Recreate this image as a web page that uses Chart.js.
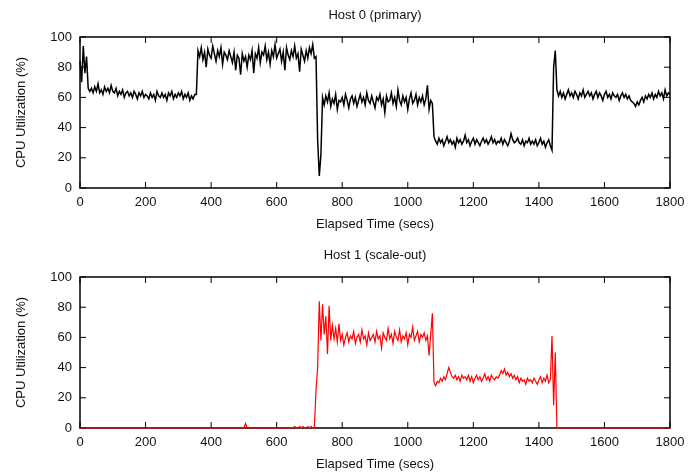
<!DOCTYPE html>
<html>
<head>
<meta charset="utf-8">
<script src="https://cdn.jsdelivr.net/npm/chart.js@4.4.1/dist/chart.umd.min.js"></script>
<style>
  html, body { margin: 0; padding: 0; background: #fff; overflow: hidden; }
  .panel { position: absolute; left: 0; width: 699px; height: 238px; }
  #top { top: 0; }
  #bottom { top: 240px; }
</style>
</head>
<body>
<div class="panel" id="top"><canvas id="host0Chart" width="699" height="238"></canvas></div>
<div class="panel" id="bottom"><canvas id="host1Chart" width="699" height="238"></canvas></div>
<script>
// CPU utilisation of the two hosts, sampled every 5 s from 0 to 1800 s

const sampleStep = 5;
const xTickStep = 200;
const yTickStep = 20;

const host0Cpu = [
  84, 70, 94, 76, 87, 66, 64,
  66, 63, 67, 64, 69, 63, 65, 62, 67, 64, 66, 63, 68, 64,
  63, 66, 61, 64, 62, 65, 60, 63, 64, 61,
  63, 60, 64, 62, 59, 63, 61, 64, 60, 62,
  61, 59, 63, 60, 62, 58, 64, 61, 60, 63,
  60, 62, 58, 63, 61, 64, 59, 62, 60, 63,
  61, 64, 59, 62, 60, 63, 58, 61, 59, 62,
  62,
  91, 87, 93, 85, 90, 80, 92, 88, 86, 94,
  89, 84, 91, 87, 93, 82, 90, 88, 85, 91,
  87, 83, 90, 78, 88, 86, 75, 89, 84, 87,
  80, 88, 85, 91, 76, 89, 86, 93, 83, 90,
  88, 94, 85, 90, 82, 91, 87, 95, 86, 89,
  92, 84, 90, 78, 93, 88, 85, 91, 87, 94,
  86, 89, 77, 92, 88, 84, 91, 86, 93, 89,
  95, 86,
  87, 32, 8, 22, 60,
  55, 61, 57, 63, 54, 59, 56, 62, 52, 58,
  57, 60, 55, 62, 58, 53, 59, 61, 56, 60,
  54, 58, 62, 57, 60, 55, 63, 58, 56, 61,
  57, 53, 60, 58, 62, 55, 59, 50, 61, 57,
  58, 63, 56, 60, 54, 65, 58, 55, 61, 57,
  60, 52, 59, 63, 56, 58, 62, 55, 60, 57,
  61, 55, 59, 68, 52, 58, 56,
  34, 31, 29, 33, 30, 32, 28, 31, 34, 30,
  32, 29, 31, 27, 33, 30, 32, 29, 31, 35,
  30, 32, 28, 31, 33, 29, 32, 30, 28, 31,
  33, 30, 32, 29, 31, 34, 30, 32, 29, 31,
  30, 33, 29, 32, 30, 28, 31, 36, 32, 30,
  31, 33, 30, 29, 32, 28, 31, 30, 33, 29,
  31, 29, 32, 28, 30, 33, 29, 31, 27, 30,
  32, 28, 25,
  80, 91,
  65, 61, 64, 60, 63, 59, 62, 65, 61, 63,
  60, 64, 62, 59, 63, 61, 65, 60, 62, 64,
  61, 63, 59, 62, 64, 60, 63, 61, 58, 62,
  64, 60, 62, 59, 63, 61, 60, 62, 58, 61,
  63, 60, 62, 59, 61, 58, 57, 56, 54, 57,
  55, 58, 60, 57, 61, 59, 62, 60, 63, 59,
  62, 60, 64, 61, 63, 59, 65, 61, 63, 62,
];

const host1Cpu = [
  0, 0, 0, 0, 0, 0, 0, 0, 0, 0,
  0, 0, 0, 0, 0, 0, 0, 0, 0, 0,
  0, 0, 0, 0, 0, 0, 0, 0, 0, 0,
  0, 0, 0, 0, 0, 0, 0, 0, 0, 0,
  0, 0, 0, 0, 0, 0, 0, 0, 0, 0,
  0, 0, 0, 0, 0, 0, 0, 0, 0, 0,
  0, 0, 0, 0, 0, 0, 0, 0, 0, 0,
  0, 0, 0, 0, 0, 0, 0, 0, 0, 0,
  0, 0, 0, 0, 0, 0, 0, 0, 0, 0,
  0, 0, 0, 0, 0, 0, 0, 0, 0, 0,
  0, 3, 0, 0, 0, 0, 0, 0, 0, 0,
  0, 0, 0, 0, 0, 0, 0, 0, 0, 0,
  0, 0, 0, 0, 0, 0, 0, 0, 0, 0,
  0, 1, 0, 0, 1, 0, 1, 0, 0, 1,
  0, 1, 0,
  0, 25, 40, 84, 58, 82, 62, 74, 49, 81, 58, 68, 59, 66, 57, 69,
  58, 62, 55, 60, 63, 57, 61, 59, 64, 56,
  60, 62, 57, 65, 59, 61, 55, 63, 58, 60,
  62, 57, 64, 59, 61, 53, 63, 60, 58, 66,
  59, 62, 56, 64, 60, 58, 65, 57, 61, 59,
  63, 55, 62, 60, 67, 58, 61, 64, 57, 62,
  60, 63, 58, 61, 48, 62, 76,
  30, 28, 31, 30, 33, 31, 34, 32, 36, 40,
  37, 34, 33, 35, 32, 34, 31, 35, 33, 34,
  32, 35, 31, 34, 30, 33, 35, 32, 34, 31,
  33, 36, 32, 34, 31, 35, 33, 32, 34, 33,
  35, 38, 36, 39, 35, 37, 34, 36, 33, 35,
  32, 34, 30, 33, 31, 32, 29, 33, 31, 32,
  30, 33, 31, 29, 32, 34, 30, 33, 31, 35,
  30, 32, 61,
  15, 50,
  0, 0, 0, 0, 0, 0, 0, 0, 0, 0,
  0, 0, 0, 0, 0, 0, 0, 0, 0, 0,
  0, 0, 0, 0, 0, 0, 0, 0, 0, 0,
  0, 0, 0, 0, 0, 0, 0, 0, 0, 0,
  0, 0, 0, 0, 0, 0, 0, 0, 0, 0,
  0, 0, 0, 0, 0, 0, 0, 0, 0, 0,
  0, 0, 0, 0, 0, 0, 0, 0, 0, 0,
];

const sampleTimes = host0Cpu.map((_, i) => i * sampleStep);

Chart.defaults.font.family = '"Liberation Sans", Arial, Helvetica, sans-serif';
Chart.defaults.font.size = 13;
Chart.defaults.color = '#111';

// gnuplot-style frame with ticks pointing inwards on all four sides
const frameTicks = {
  id: 'frameTicks',
  beforeDatasetsDraw(chart) {
    const { ctx, chartArea: a, scales: { x, y } } = chart;
    const len = 6;
    ctx.save();
    ctx.strokeStyle = '#000';
    ctx.lineWidth = 1;
    ctx.beginPath();
    x.ticks.forEach(t => {
      const px = x.getPixelForValue(t.value);
      ctx.moveTo(px, a.bottom);
      ctx.lineTo(px, a.bottom - len);
      ctx.moveTo(px, a.top);
      ctx.lineTo(px, a.top + len);
    });
    y.ticks.forEach(t => {
      const py = y.getPixelForValue(t.value);
      ctx.moveTo(a.left, py);
      ctx.lineTo(a.left + len, py);
      ctx.moveTo(a.right, py);
      ctx.lineTo(a.right - len, py);
    });
    ctx.stroke();
    ctx.lineWidth = 1.5;
    ctx.strokeRect(a.left, a.top, a.right - a.left, a.bottom - a.top);
    ctx.restore();
  },
};

const plainNumber = value => String(value);

function makeHostChart(canvasId, title, values, color, width) {
  const ctx = document.getElementById(canvasId).getContext('2d');
  return new Chart(ctx, {
    type: 'line',
    data: {
      datasets: [
        {
          data: values.map((v, i) => ({ x: sampleTimes[i], y: v })),
          borderColor: color,
          borderWidth: width,
          pointRadius: 0,
          tension: 0,
          fill: false,
          clip: 2,
        },
      ],
    },
    options: {
      responsive: false,
      animation: false,
      layout: { padding: { left: 0, right: 29, top: 0, bottom: 0 } },
      plugins: {
        legend: { display: false },
        tooltip: { enabled: false },
        title: {
          display: true,
          text: title,
          fullSize: false,
          color: '#111',
          font: { size: 13, weight: 'normal' },
          padding: { top: 8, bottom: 13.4 },
        },
      },
      scales: {
        x: {
          type: 'linear',
          min: 0,
          max: 1800,
          afterFit: s => { s.height = 50; },
          grid: { display: false, drawTicks: false },
          border: { display: false },
          ticks: { stepSize: xTickStep, padding: 7, maxRotation: 0, callback: plainNumber },
          title: { display: true, text: 'Elapsed Time (secs)', padding: { top: 0, bottom: 6 } },
        },
        y: {
          min: 0,
          max: 100,
          afterFit: s => { s.width = 80; },
          grid: { display: false, drawTicks: false },
          border: { display: false },
          ticks: { stepSize: yTickStep, padding: 8, callback: plainNumber },
          title: { display: true, text: 'CPU Utilization (%)', padding: { top: 14, bottom: 0 } },
        },
      },
    },
    plugins: [frameTicks],
  });
}

makeHostChart('host0Chart', 'Host 0 (primary)', host0Cpu, '#000', 1.5);
makeHostChart('host1Chart', 'Host 1 (scale-out)', host1Cpu, '#ff0000', 1.2);
</script>
</body>
</html>
